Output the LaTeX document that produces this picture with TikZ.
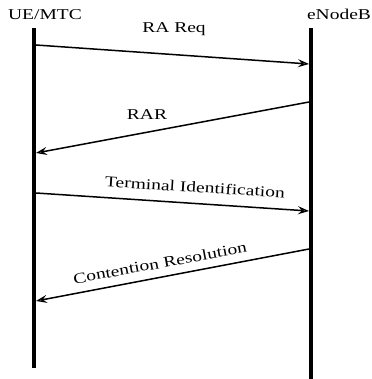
\documentclass[tikz,border=0pt]{standalone}
\usepackage{fontspec}
\setmainfont{Liberation Serif}
\usetikzlibrary{arrows.meta}
\tikzset{
  life/.style={line width=4pt},
  msg/.style={line width=1.5pt,-{Stealth[open,length=11pt,width=8pt,inset=4pt,line width=1.3pt]}},
  lbl/.style={inner sep=0pt,font=\fontsize{15}{18}\selectfont}
}
\newcommand{\wide}[1]{\scalebox{1.3}[1]{#1}}
\begin{document}
\begin{tikzpicture}[x=1pt,y=-1pt]
\useasboundingbox (0,0) rectangle (371,379);
% headers
\node[lbl,anchor=base] (ue) at (45,20) {\wide{UE/MTC}};
\node[lbl,anchor=base] (enb) at (339,20) {\wide{eNodeB}};
% lifelines
\coordinate (uetop) at (34,28);
\coordinate (uebot) at (34,368);
\coordinate (enbtop) at (311,28);
\coordinate (enbbot) at (311,379);
\draw[life] (uetop) -- (uebot);
\draw[life] (enbtop) -- (enbbot);
% message end points
\coordinate (m1s) at (36,45);
\coordinate (m1e) at (309,64);
\coordinate (m2s) at (309,102);
\coordinate (m2e) at (36,153);
\coordinate (m3s) at (36,193);
\coordinate (m3e) at (309,211);
\coordinate (m4s) at (309,249);
\coordinate (m4e) at (36,301);
\draw[msg] (m1s) -- (m1e);
\draw[msg] (m2s) -- (m2e);
\draw[msg] (m3s) -- (m3e);
\draw[msg] (m4s) -- (m4e);
% labels
\node[lbl,anchor=base] (l1) at (174,33) {\wide{RA Req}};
\node[lbl,anchor=base] (l2) at (147,120) {\wide{RAR}};
\node[lbl,rotate=-3.6] (l3) at (195,187) {\wide{Terminal Identification}};
\node[lbl,rotate=10.5] (l4) at (160,263) {\wide{Contention Resolution}};
\end{tikzpicture}
\end{document}
